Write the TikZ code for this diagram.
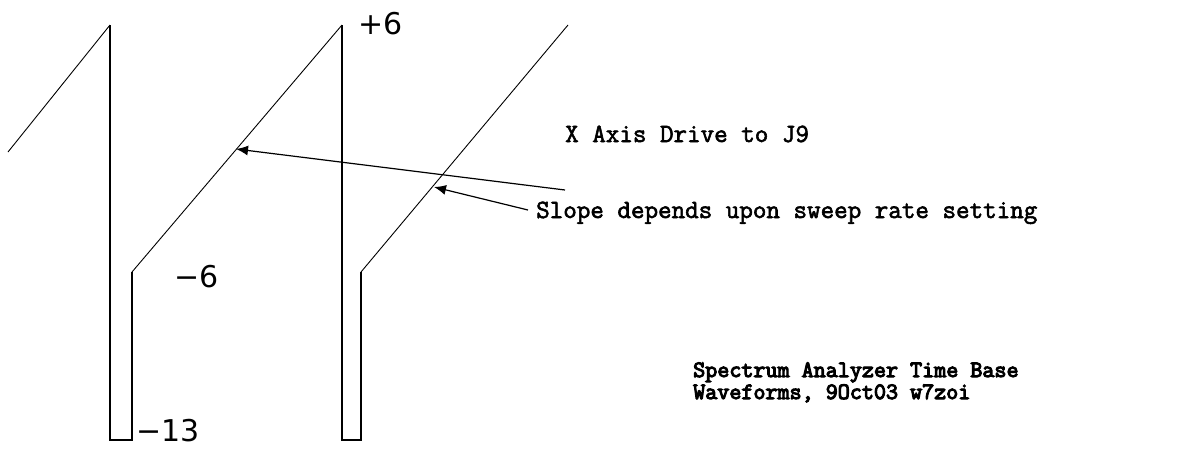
\documentclass[tikz,border=0pt]{standalone}
\usepackage{fontspec}
\usetikzlibrary{arrows.meta}
\newfontfamily\labelfont{DejaVu Sans}
\newfontfamily\monofont[FakeBold=2.2]{Latin Modern Mono}
\newfontfamily\creditfont[FakeBold=4.5]{Latin Modern Mono}
\begin{document}
\begin{tikzpicture}[x=1pt,y=-1pt,
  wave/.style={line width=1.4pt,line join=miter},
  slopeline/.style={line width=0.9pt},
  pointer/.style={line width=1.2pt,-{Latex[length=12pt,width=10pt]}},
  lvl/.style={font=\labelfont\fontsize{30}{30}\selectfont,anchor=base west,inner sep=0pt},
  note/.style={font=\monofont\fontsize{26.3}{26.3}\selectfont,anchor=base west,inner sep=0pt},
  credit/.style={font=\creditfont\fontsize{23.4}{23.4}\selectfont,anchor=base west,inner sep=0pt}]
\useasboundingbox (0,0) rectangle (1195,448);
% waveform
\draw[slopeline] (8,152) -- (110,25);
\draw[wave] (110,25) -- (110,440) -- (132,440) -- (132,272);
\draw[slopeline] (132,272) -- (342,25);
\draw[wave] (342,25) -- (342,440) -- (361,440) -- (361,272);
\draw[slopeline] (361,272) -- (568,25);
% labels
\node[lvl] (p6) at (358,34) {+6};
\node[lvl] (m6) at (174,287) {−6};
\node[lvl] (m13) at (136,441) {−13};
\node[note] (xaxis) at (565,142) {X Axis Drive to J9};
\node[note] (slope) at (536,218) {Slope depends upon sweep rate setting};
\node[credit] (t1) at (693,377) {Spectrum Analyzer Time Base};
\node[credit] (t2) at (693,399) {Waveforms, 9Oct03 w7zoi};
% pointers
\coordinate (a1s) at (565,190);
\coordinate (a1e) at (236,149);
\coordinate (a2s) at (528,210);
\coordinate (a2e) at (434,187);
\draw[pointer] (a1s) -- (a1e);
\draw[pointer] (a2s) -- (a2e);
\end{tikzpicture}
\end{document}
